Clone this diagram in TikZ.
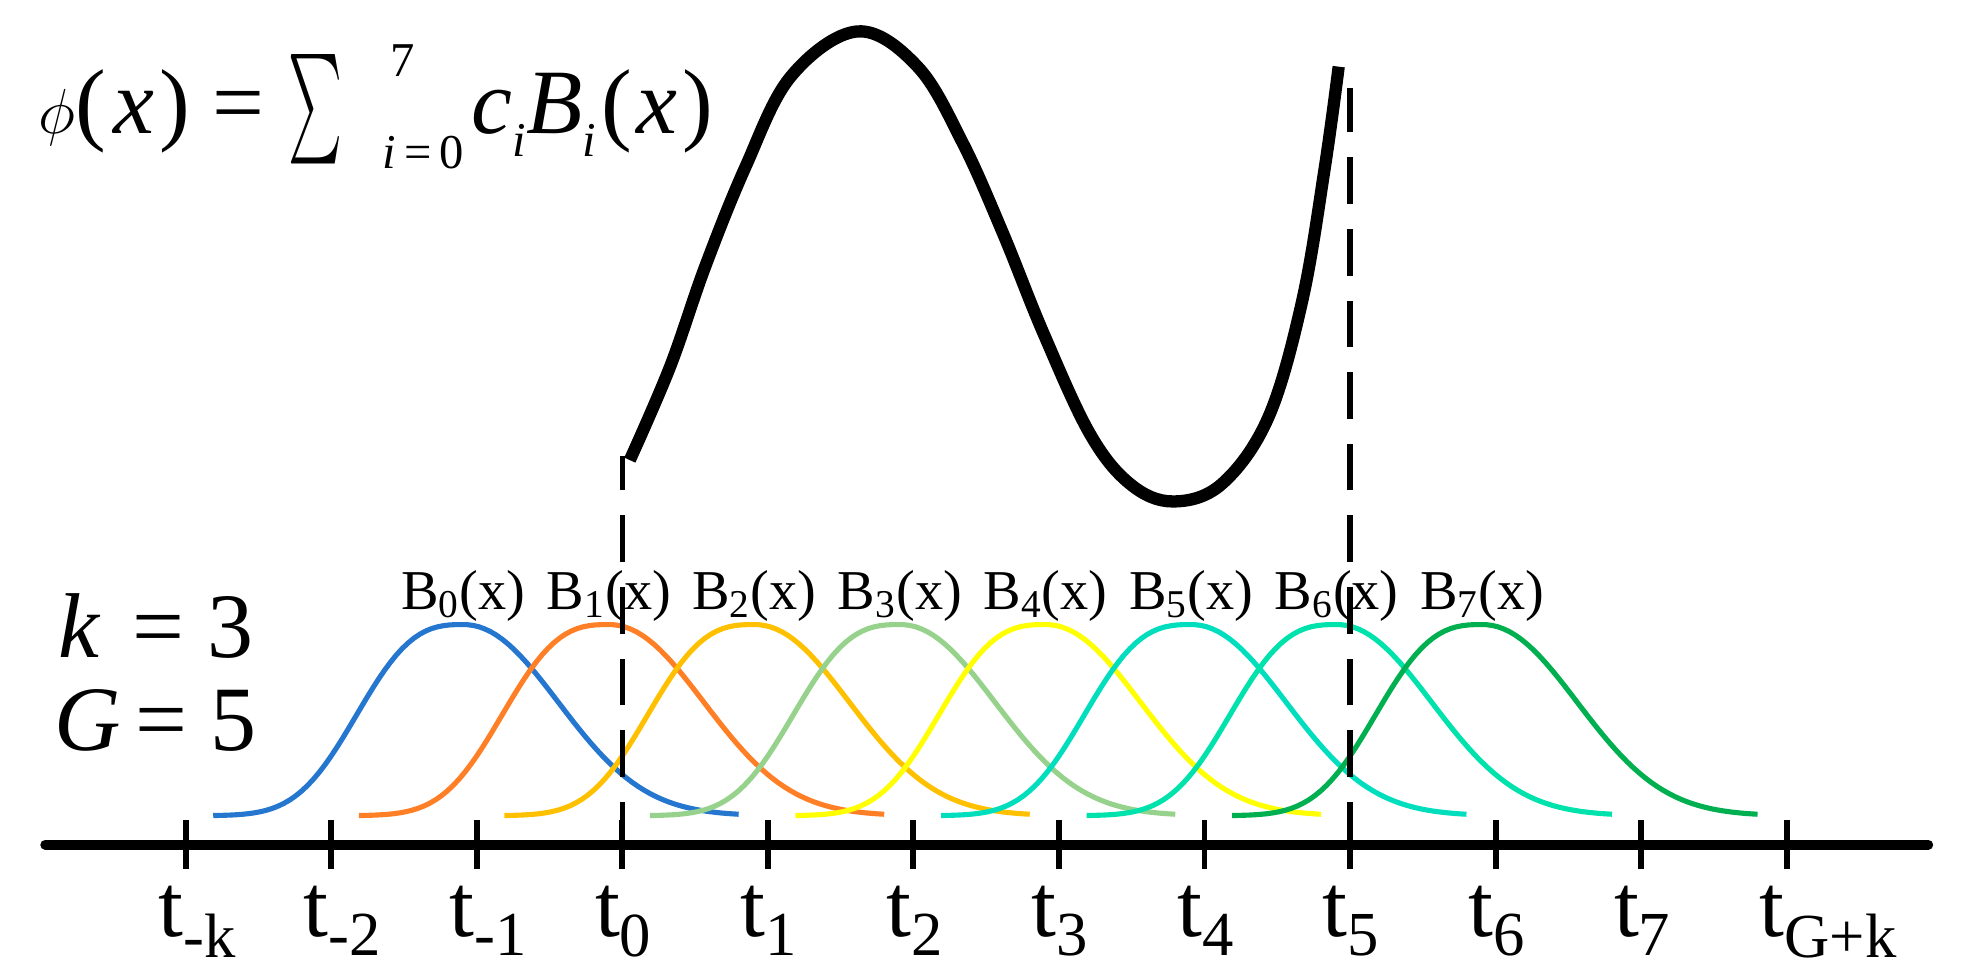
\documentclass[tikz,border=0pt]{standalone}
\usepackage{fontspec}
\usepackage{amsmath}
\usepackage{exscale}
\setmainfont{Liberation Serif}
\definecolor{bzero}{RGB}{36,118,207}
\definecolor{bone}{RGB}{255,127,39}
\definecolor{btwo}{RGB}{255,192,0}
\definecolor{bthree}{RGB}{150,210,140}
\definecolor{bfour}{RGB}{255,255,0}
\definecolor{bfive}{RGB}{0,222,190}
\definecolor{bsix}{RGB}{0,226,172}
\definecolor{bseven}{RGB}{0,176,80}
\newcommand{\idxfont}{\fontsize{19}{21}\selectfont}
\usetikzlibrary{positioning}

\begin{document}
\begin{tikzpicture}[x=2cm, y=2cm, every node/.style={inner sep=0pt},
    declare function={bell(\t)=exp(-1*pow((abs(\t-1.718)+0.0001)/(0.86+0.03*(\t>1.718)),2.8-0.7*(\t>1.718)));}]
    \useasboundingbox (-4.275,-0.898) rectangle (9.266,5.803);

    % knot axis
    \draw[line width=3.9pt, line cap=round] (-3.964,0) -- (8.972,0);
    \foreach \i/\s in {-3/-k,-2/-2,-1/-1,0/0,1/1,2/2,3/3,4/4,5/5,6/6,7/7,8/G+k} {
        \coordinate (t\i) at (\i,0);
        \draw[line width=2.3pt] (\i,0.17) -- (\i,-0.17);
        \node[anchor=base west, font=\fontsize{35}{42}\selectfont] (lab\i) at (\i-0.19,-0.63) {t$_{\text{\s}}$};
    }

    % basis functions
    \foreach \j/\col in {0/bzero,1/bone,2/btwo,3/bthree,4/bfour,5/bfive,6/bsix,7/bseven} {
        \draw[line width=2pt, \col] plot[domain=0:3.61, samples=90] ({\j-2.81+\x}, {0.199+1.313*bell(\x)});
        \node[anchor=base, font=\fontsize{22}{26}\selectfont] (b\j) at (\j-1.092,1.615) {B$_{\text{\j}}$(x)};
    }

    % spline and its domain
    \draw[line width=2.1pt, dash pattern=on 18.2pt off 9.8pt, dash phase=1.5pt] (t0) -- (0,2.668);
    \draw[line width=2.1pt, dash pattern=on 18.2pt off 9.8pt, dash phase=1.5pt] (t5) -- (5,5.199);
    \draw[line width=4.8pt] plot[smooth, tension=0.6] coordinates {(0.052,2.642) (0.328,3.282) (0.570,3.972) (0.846,4.655) (1.157,5.276) (1.615,5.587) (2.029,5.345) (2.340,4.819) (2.617,4.197) (2.893,3.515) (3.212,2.824) (3.489,2.478) (3.782,2.358) (4.119,2.478) (4.439,2.936) (4.672,3.739) (4.827,4.655) (4.922,5.345)};

    % phi(x) = sum c_i B_i(x)
    \node[anchor=base west, font=\fontsize{36}{43}\selectfont] (phi) at (-4.016,4.888) {$\phi$(\hspace{3pt}\textit{x}\hspace{2pt}) =};
    \node[anchor=south west, font=\fontsize{43}{50}\selectfont] (sigma) at (-2.297,4.672) {\resizebox{21.1pt}{42.8pt}{\raisebox{\depth}{$\sum$}}};
    \node[anchor=base west, font=\idxfont] (upper) at (-1.598,5.276) {7};
    \node[anchor=base west, font=\idxfont] (lower) at (-1.649,4.646) {\textit{i}\,=\,0};
    \node[anchor=base west, font=\fontsize{36}{43}\selectfont] (terms) at (-1.036,4.888) {\textit{c}\raisebox{-9pt}{\idxfont\textit{i}}\textit{B}\raisebox{-9pt}{\idxfont\textit{i}}\hspace{2pt}(\hspace{2pt}\textit{x}\hspace{2pt})};

    \node[anchor=base west, font=\fontsize{36}{43}\selectfont] (kval) at (-3.877,1.287) {\makebox[0.55em][l]{\textit{k}} = 3};
    \node[anchor=base west, font=\fontsize{36}{43}\selectfont] (gval) at (-3.903,0.648) {\makebox[0.63em][l]{\textit{G}} = 5};
\end{tikzpicture}
\end{document}
